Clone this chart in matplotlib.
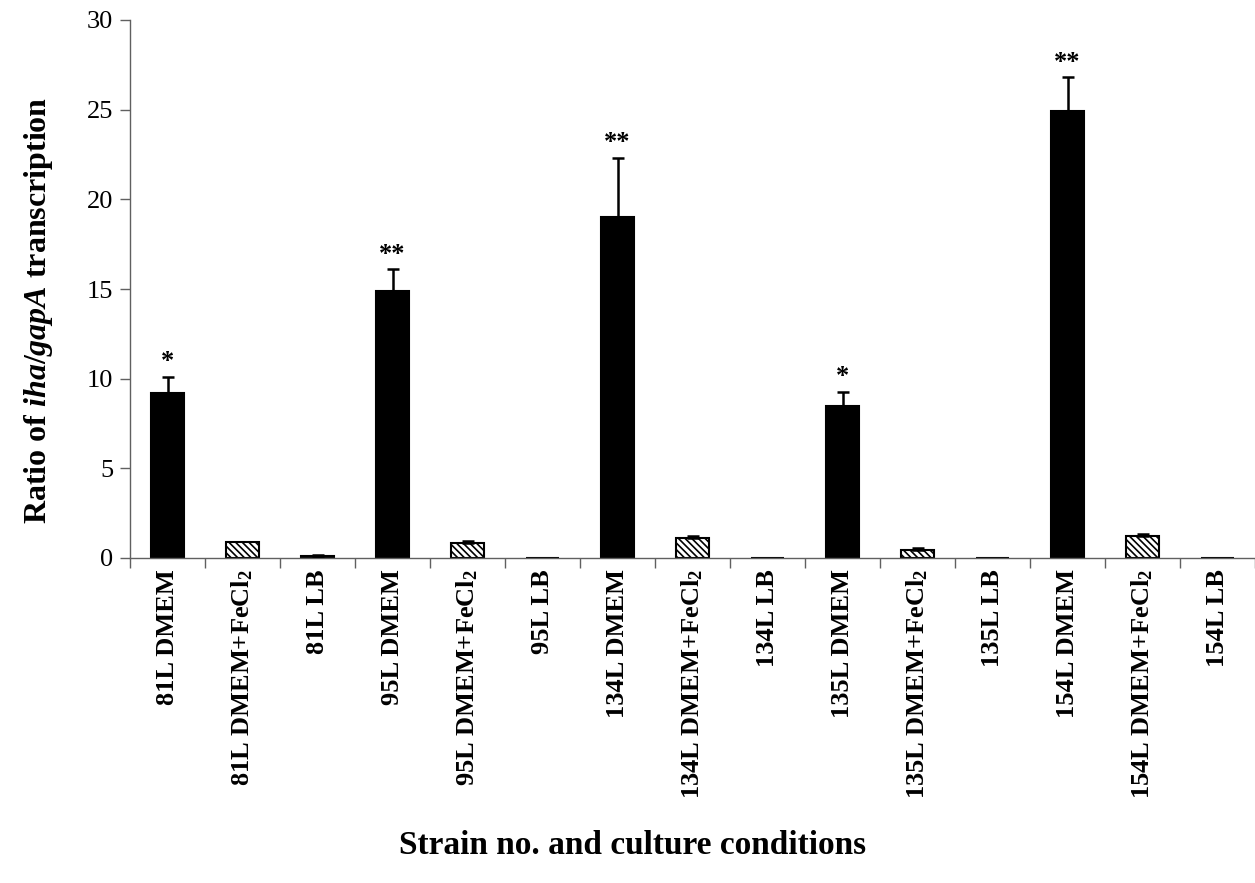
import numpy as np
import matplotlib
matplotlib.use("Agg")
import matplotlib.pyplot as plt

plt.rcParams['font.family'] = ['Liberation Serif', 'DejaVu Serif']
plt.rcParams['hatch.linewidth'] = 1.2
plt.rcParams['mathtext.fontset'] = 'custom'
plt.rcParams['mathtext.rm'] = 'Liberation Serif:bold'
plt.rcParams['mathtext.it'] = 'Liberation Serif:italic:bold'
plt.rcParams['mathtext.bf'] = 'Liberation Serif:bold'

labels = ["81L DMEM", "81L DMEM+FeCl$_2$", "81L LB",
          "95L DMEM", "95L DMEM+FeCl$_2$", "95L LB",
          "134L DMEM", "134L DMEM+FeCl$_2$", "134L LB",
          "135L DMEM", "135L DMEM+FeCl$_2$", "135L LB",
          "154L DMEM", "154L DMEM+FeCl$_2$", "154L LB"]
values = [9.22, 0.91, 0.10, 14.9, 0.85, 0.02, 19.0, 1.12, 0.02,
          8.48, 0.45, 0.02, 24.9, 1.22, 0.02]
errors = [0.88, 0.0, 0.05, 1.2, 0.08, 0.0, 3.3, 0.12, 0.0,
          0.78, 0.1, 0.0, 1.9, 0.12, 0.0]
# 0 = DMEM (solid), 1 = DMEM+FeCl2 (hatched), 2 = LB
condition = [0, 1, 2] * 5
stars = ["*", "", "", "**", "", "", "**", "", "", "*", "", "", "**", "", ""]

fig = plt.figure(figsize=(12.55, 8.83), dpi=100)
ax = fig.add_axes([130 / 1255, (883 - 558) / 883, 1125 / 1255, 538 / 883])

x = np.arange(len(labels))
for i in x:
    hatched = condition[i] == 1
    ax.bar(x[i], values[i], width=0.45,
           color='white' if hatched else 'black',
           edgecolor='black', linewidth=1.5,
           hatch='\\\\\\\\\\' if hatched else None, zorder=2)
    if errors[i] > 0:
        ax.errorbar(x[i], values[i], yerr=[[0], [errors[i]]], fmt='none',
                    ecolor='black', elinewidth=1.8, capsize=4, capthick=1.8,
                    zorder=3)
    if stars[i]:
        ax.text(x[i], values[i] + errors[i] + 0.2, stars[i], ha='center',
                va='bottom', fontsize=19, fontweight='bold')

ax.set_xlim(-0.5, len(labels) - 0.5)
ax.set_ylim(0, 30)
ax.set_yticks(np.arange(0, 31, 5))
ax.tick_params(axis='y', labelsize=19, direction='out', length=7,
               color='#606060', width=1, pad=5)

ax.set_xticks(x)
ax.set_xticklabels(labels, rotation=90, fontsize=19, fontweight='bold')
ax.tick_params(axis='x', which='major', length=0, pad=8)
ax.set_xticks(np.arange(-0.5, len(labels), 1), minor=True)
ax.tick_params(axis='x', which='minor', length=7, direction='out',
               color='#606060', width=1)

for s in ['top', 'right']:
    ax.spines[s].set_visible(False)
for s in ['left', 'bottom']:
    ax.spines[s].set_color('#606060')
    ax.spines[s].set_linewidth(1)

ax.set_ylabel("Ratio of $\\it{iha/gapA}$ transcription",
              fontsize=23, fontweight='bold')
ax.yaxis.set_label_coords(-0.067, 0.46)
fig.text(633 / 1255, 1 - 845 / 883, "Strain no. and culture conditions",
         ha='center', va='center', fontsize=24, fontweight='bold')

fig.savefig("out.png", dpi=100)
